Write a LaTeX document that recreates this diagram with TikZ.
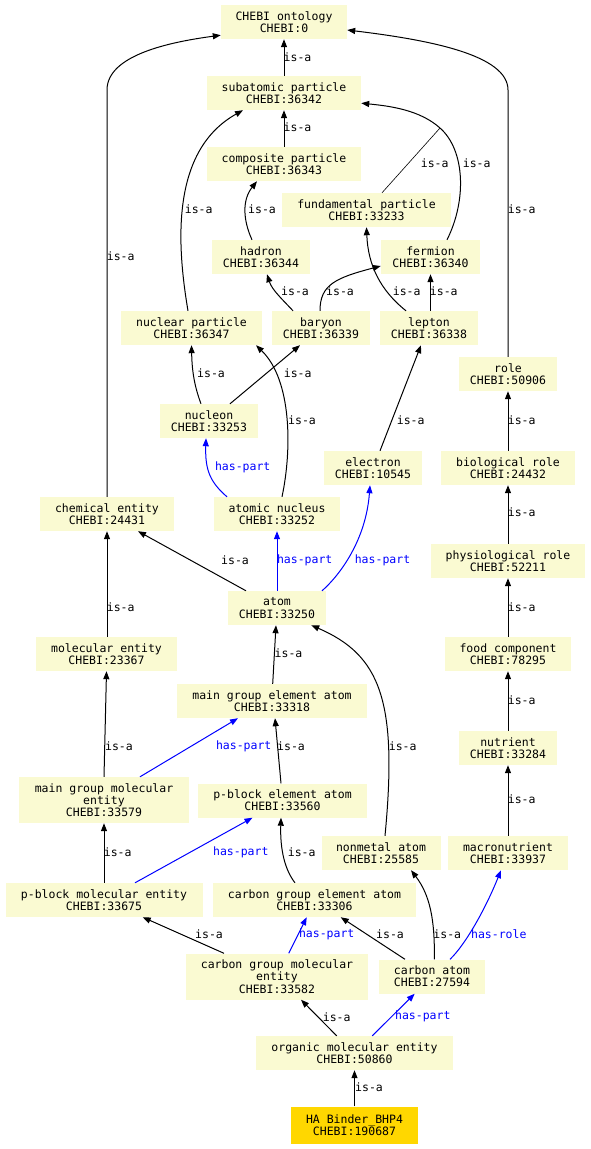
\documentclass[tikz,border=0pt]{standalone}
\usepackage{fontspec}
\setmonofont{DejaVu Sans Mono}
\usetikzlibrary{arrows.meta}
\definecolor{nodefill}{HTML}{FAFAD2}
\definecolor{goldfill}{HTML}{FFD700}
\begin{document}
\begin{tikzpicture}[x=1pt,y=-1pt,
  box/.style={fill=nodefill, inner sep=0pt, align=center, minimum height=34pt, font=\ttfamily\fontsize{11.5}{12.3}\selectfont},
  lab/.style={inner sep=0pt, font=\ttfamily\fontsize{11.5}{12.3}\selectfont},
  bl/.style={lab, text=blue},
  isa/.style={draw=black, line width=1pt, -{Triangle[length=8pt,width=6pt]}},
  hp/.style={draw=blue, line width=1pt, -{Triangle[length=8pt,width=6pt]}},
  thin/.style={draw=black, line width=0.6pt},
]
\useasboundingbox (0,0) rectangle (591,1149);
% nodes
\node[box, minimum width=126pt] (ont) at (284,22) {CHEBI ontology\\CHEBI:0};
\node[box, minimum width=154pt] (sub) at (284,93) {subatomic particle\\CHEBI:36342};
\node[box, minimum width=154pt] (comp) at (284,164) {composite particle\\CHEBI:36343};
\node[box, minimum width=169pt] (fund) at (366.5,210) {fundamental particle\\CHEBI:33233};
\node[box, minimum width=98pt] (had) at (261,257) {hadron\\CHEBI:36344};
\node[box, minimum width=99pt] (ferm) at (430.5,257) {fermion\\CHEBI:36340};
\node[box, minimum width=141pt] (np) at (191.5,328) {nuclear particle\\CHEBI:36347};
\node[box, minimum width=98pt] (bar) at (321,328) {baryon\\CHEBI:36339};
\node[box, minimum width=98pt] (lep) at (429,328) {lepton\\CHEBI:36338};
\node[box, minimum width=98pt] (role) at (508,374) {role\\CHEBI:50906};
\node[box, minimum width=98pt] (nucl) at (209,421) {nucleon\\CHEBI:33253};
\node[box, minimum width=98pt] (elec) at (373,468) {electron\\CHEBI:10545};
\node[box, minimum width=134pt] (bio) at (508,468) {biological role\\CHEBI:24432};
\node[box, minimum width=134pt] (chem) at (107,514) {chemical entity\\CHEBI:24431};
\node[box, minimum width=126pt] (an) at (277,514) {atomic nucleus\\CHEBI:33252};
\node[box, minimum width=154pt] (phys) at (508,561) {physiological role\\CHEBI:52211};
\node[box, minimum width=98pt] (atom) at (277,608) {atom\\CHEBI:33250};
\node[box, minimum width=141pt] (mol) at (106.5,654) {molecular entity\\CHEBI:23367};
\node[box, minimum width=126pt] (food) at (508,654) {food component\\CHEBI:78295};
\node[box, minimum width=190pt] (mgea) at (272,701) {main group element atom\\CHEBI:33318};
\node[box, minimum width=98pt] (nutr) at (508,748) {nutrient\\CHEBI:33284};
\node[box, minimum width=170pt, minimum height=46pt] (mgme) at (104,800) {main group molecular\\entity\\CHEBI:33579};
\node[box, minimum width=169pt] (pbea) at (282.5,800.5) {p-block element atom\\CHEBI:33560};
\node[box, minimum width=119pt] (nma) at (381,853) {nonmetal atom\\CHEBI:25585};
\node[box, minimum width=120pt] (macro) at (508,853) {macronutrient\\CHEBI:33937};
\node[box, minimum width=197pt] (pbme) at (104,900) {p-block molecular entity\\CHEBI:33675};
\node[box, minimum width=203pt] (cgea) at (314.5,900) {carbon group element atom\\CHEBI:33306};
\node[box, minimum width=182pt, minimum height=46pt] (cgme) at (277,976.5) {carbon group molecular\\entity\\CHEBI:33582};
\node[box, minimum width=106pt] (catom) at (432,976.5) {carbon atom\\CHEBI:27594};
\node[box, minimum width=197pt] (ome) at (354.5,1053) {organic molecular entity\\CHEBI:50860};
\node[box, fill=goldfill, minimum width=127pt, minimum height=37pt] (ha) at (354.5,1125) {HA Binder\char"5F BHP4\\CHEBI:190687};
\coordinate (merge) at (440,128);
% edges
\draw[isa] (sub.north) -- (ont.south) node[lab] at (297.5,57) {is-a};
\draw[isa] (comp.north) -- (sub.south) node[lab] at (297.5,127) {is-a};
\draw[isa] (chem.north) -- (107,90) .. controls (107,55) and (170,42) .. ([yshift=4pt]ont.south west) node[lab] at (120.7,256.5) {is-a};
\draw[isa] (role.north) -- (508,90) .. controls (508,55) and (430,40) .. ([yshift=-8pt]ont.east) node[lab] at (521.7,209.3) {is-a};
\draw[isa] ([xshift=-3.5pt]np.north) .. controls (176,240) and (172,150) .. ([xshift=-41pt]sub.south) node[lab] at (198.7,209) {is-a};
\draw[thin] ([xshift=15.5pt]fund.north) -- (merge) node[lab] at (434.7,163.3) {is-a};
\draw[isa] ([xshift=16.5pt]ferm.north) .. controls (467,200) and (465,150) .. (merge) .. controls (420,110) and (390,106) .. ([yshift=7pt]sub.south east) node[lab] at (476.7,163.3) {is-a};
\draw[isa] ([xshift=-9pt]had.north) .. controls (243,220) and (242,200) .. ([xshift=-27pt]comp.south) node[lab] at (262,209) {is-a};
\draw[isa] ([xshift=-28pt]bar.north) .. controls (283,300) and (272,290) .. ([xshift=6pt]had.south) node[lab] at (295,291.3) {is-a};
\draw[isa] ([xshift=-1pt]bar.north) .. controls (320,285) and (335,278) .. ([yshift=-9pt]ferm.west) node[lab] at (340,291.3) {is-a};
\draw[isa] ([xshift=-23pt]lep.north) .. controls (380,290) and (368,265) .. (fund.south) node[lab] at (406.7,291.3) {is-a};
\draw[isa] (ferm.south |- lep.north) -- (ferm.south) node[lab] at (443.8,291.3) {is-a};
\draw[isa] ([xshift=-8pt]nucl.north) .. controls (194,385) and (192,370) .. (np.south) node[lab] at (211,373.3) {is-a};
\draw[isa] ([xshift=21pt]nucl.north) -- ([xshift=-21pt]bar.south) node[lab] at (297.7,373.3) {is-a};
\draw[isa] ([xshift=5pt]an.north) .. controls (292,450) and (292,380) .. ([xshift=64.5pt]np.south) node[lab] at (302,420) {is-a};
\draw[hp] ([xshift=-50pt]an.north) .. controls (210,482) and (205,470) .. ([xshift=-3pt]nucl.south) node[bl] at (242.7,467) {has-part};
\draw[isa] ([xshift=7pt]elec.north) -- ([xshift=-8pt]lep.south) node[lab] at (410.7,420) {is-a};
\draw[isa] (bio.north) -- (role.south) node[lab] at (521.7,420) {is-a};
\draw[isa] (phys.north) -- (bio.south) node[lab] at (521.7,512.7) {is-a};
\draw[isa] ([xshift=-31pt]atom.north) -- ([xshift=31pt]chem.south) node[lab] at (235,560.7) {is-a};
\draw[hp] (atom.north) -- (an.south) node[bl] at (304.7,560.7) {has-part};
\draw[hp] ([xshift=45pt]atom.north) .. controls (340,575) and (366,540) .. ([xshift=-3pt]elec.south) node[bl] at (382.5,560.7) {has-part};
\draw[isa] (chem.south |- mol.north) -- (chem.south) node[lab] at (120.7,607.3) {is-a};
\draw[isa] (food.north) -- (phys.south) node[lab] at (521.7,607.3) {is-a};
\draw[isa] ([xshift=0.7pt]mgea.north) -- ([xshift=-1pt]atom.south) node[lab] at (288.5,653.3) {is-a};
\draw[isa] ([xshift=4pt]nma.north) .. controls (398,700) and (380,655) .. ([xshift=-15pt]atom.south east) node[lab] at (402.7,746.7) {is-a};
\draw[isa] (nutr.north) -- (food.south) node[lab] at (521.7,700) {is-a};
\draw[isa] (mgme.north) -- (mol.south) node[lab] at (119,746.7) {is-a};
\draw[hp] ([xshift=36pt]mgme.north) -- ([xshift=-34pt]mgea.south) node[bl] at (243.7,746.7) {has-part};
\draw[isa] ([xshift=-1.5pt]pbea.north) -- ([xshift=3pt]mgea.south) node[lab] at (291,746.7) {is-a};
\draw[isa] (macro.north) -- (nutr.south) node[lab] at (521.7,799) {is-a};
\draw[isa] (pbme.north) -- (mgme.south) node[lab] at (117.7,852.3) {is-a};
\draw[hp] ([xshift=31pt]pbme.north) -- ([xshift=-30pt]pbea.south) node[bl] at (240.8,852.3) {has-part};
\draw[isa] ([xshift=-19.5pt]cgea.north) .. controls (285,870) and (280,850) .. ([xshift=-1.5pt]pbea.south) node[lab] at (301.7,852.3) {is-a};
\draw[isa] ([xshift=-53pt]cgme.north) -- ([xshift=38.7pt]pbme.south) node[lab] at (209,934) {is-a};
\draw[hp] ([xshift=11.7pt]cgme.north) -- ([xshift=-7.8pt]cgea.south) node[bl] at (326.7,934.3) {has-part};
\draw[isa] ([xshift=-27pt]catom.north) -- ([xshift=26.2pt]cgea.south) node[lab] at (390,934) {is-a};
\draw[isa] ([xshift=2.3pt]catom.north) .. controls (435,920) and (430,895) .. ([xshift=30pt]nma.south) node[lab] at (447.3,934) {is-a};
\draw[hp] ([xshift=18pt]catom.north) .. controls (465,945) and (485,910) .. ([xshift=-7pt]macro.south) node[bl] at (498.8,934) {has-role};
\draw[isa] ([xshift=-17.8pt]ome.north) -- ([xshift=24pt]cgme.south) node[lab] at (336.7,1016.7) {is-a};
\draw[hp] ([xshift=17.8pt]ome.north) -- ([xshift=-17.3pt]catom.south) node[bl] at (422.8,1016.7) {has-part};
\draw[isa] (ha.north) -- (ome.south) node[lab] at (369,1087.3) {is-a};
\end{tikzpicture}
\end{document}
